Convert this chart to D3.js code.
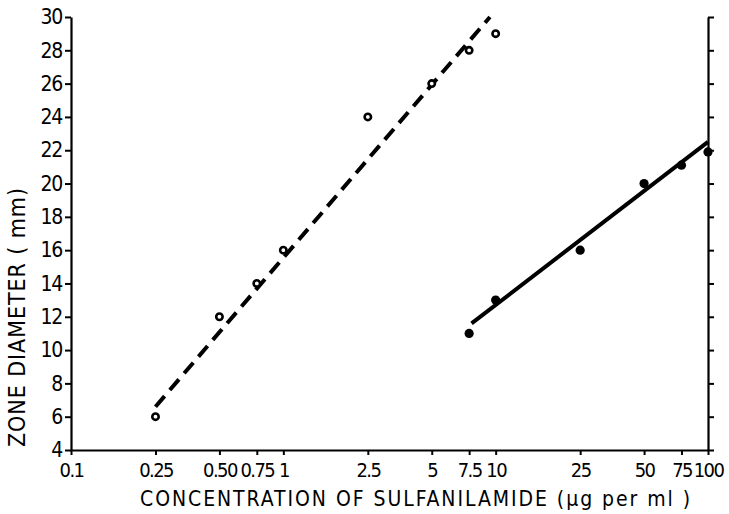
<!DOCTYPE html>
<html>
<head>
<meta charset="utf-8">
<script src="https://cdn.jsdelivr.net/npm/d3@7"></script>
<style>
  body { margin: 0; background: #fff; }
  svg text { font-family: "DejaVu Sans Condensed", "DejaVu Sans", sans-serif; fill: #000; }
</style>
</head>
<body>
<div id="chart"></div>
<script>
// concentration tick labels (ug per ml)
const xTicks = [0.1, 0.25, 0.5, 0.75, 1, 2.5, 5, 7.5, 10, 25, 50, 75, 100]
const xTickLabels = ["0.1", "0.25", "0.50", "0.75", "1", "2.5", "5", "7.5", "10", "25", "50", "75", "100"]
const yTicks = [4, 6, 8, 10, 12, 14, 16, 18, 20, 22, 24, 26, 28, 30]

// open circles + dashed fit
const openConc = [0.25, 0.5, 0.75, 1, 2.5, 5, 7.5, 10]
const openZone = [6, 12, 14, 16, 24, 26, 28, 29]
const dashedFit = [[0.25, 6.6], [9.4, 30]]

// filled circles + solid fit
const filledConc = [7.5, 10, 25, 50, 75, 100]
const filledZone = [11, 13, 16, 20, 21.1, 21.9]
const solidFit = [[7.7, 11.6], [100, 22.5]]

const width = 729
const height = 514
const margin = { top: 17, right: 21, bottom: 64, left: 71 }

const svg = d3.select("#chart")
  .append("svg")
  .attr("width", width)
  .attr("height", height)

const x = d3.scaleLog()
  .domain([0.1, 100])
  .range([margin.left, width - margin.right])

const y = d3.scaleLinear()
  .domain([4, 30])
  .range([height - margin.bottom, margin.top])

// bottom axis
const xAxis = svg.append("g")
  .attr("transform", `translate(0, ${height - margin.bottom})`)
  .call(d3.axisBottom(x)
    .tickValues(xTicks)
    .tickFormat((d, i) => xTickLabels[i])
    .tickSize(5)
    .tickSizeOuter(0)
    .tickPadding(8))
xAxis.select(".domain").attr("stroke-width", 2.2)
xAxis.selectAll(".tick line").attr("stroke-width", 2)
xAxis.selectAll(".tick text")
  .attr("font-size", 20)
  .attr("font-weight", 500)
  .attr("letter-spacing", -1.6)

// left axis
const yAxis = svg.append("g")
  .attr("transform", `translate(${margin.left}, 0)`)
  .call(d3.axisLeft(y)
    .tickValues(yTicks)
    .tickSize(6)
    .tickSizeOuter(0)
    .tickPadding(3))
yAxis.select(".domain").attr("stroke-width", 2.2)
yAxis.selectAll(".tick line").attr("stroke-width", 2)
yAxis.selectAll(".tick text")
  .attr("font-size", 21)
  .attr("letter-spacing", -1.3)

// right axis, ticks only
const yRight = svg.append("g")
  .attr("transform", `translate(${width - margin.right}, 0)`)
  .call(d3.axisRight(y)
    .tickValues(yTicks)
    .tickSize(6)
    .tickSizeOuter(0)
    .tickFormat(""))
yRight.select(".domain").attr("stroke-width", 2.2)
yRight.selectAll(".tick line").attr("stroke-width", 2)

// fit lines
const line = d3.line()
  .x(d => x(d[0]))
  .y(d => y(d[1]))

svg.append("path")
  .datum(dashedFit)
  .attr("d", line)
  .attr("fill", "none")
  .attr("stroke", "#000")
  .attr("stroke-width", 4)
  .attr("stroke-dasharray", "14,8")

svg.append("path")
  .datum(solidFit)
  .attr("d", line)
  .attr("fill", "none")
  .attr("stroke", "#000")
  .attr("stroke-width", 4)

// points
svg.append("g")
  .selectAll("circle")
  .data(openConc)
  .join("circle")
  .attr("cx", d => x(d))
  .attr("cy", (d, i) => y(openZone[i]))
  .attr("r", 3.2)
  .attr("fill", "#fff")
  .attr("stroke", "#000")
  .attr("stroke-width", 2.6)

svg.append("g")
  .selectAll("circle")
  .data(filledConc)
  .join("circle")
  .attr("cx", d => x(d))
  .attr("cy", (d, i) => y(filledZone[i]))
  .attr("r", 4.6)
  .attr("fill", "#000")

// axis titles
svg.append("text")
  .attr("x", 140)
  .attr("y", 506)
  .attr("font-size", 21)
  .attr("textLength", 550)
  .attr("lengthAdjust", "spacing")
  .text("CONCENTRATION OF SULFANILAMIDE  (\u00b5g per ml )")

svg.append("text")
  .attr("transform", "translate(25, 447) rotate(-90)")
  .attr("font-size", 23)
  .attr("textLength", 259)
  .attr("lengthAdjust", "spacing")
  .text("ZONE  DIAMETER  ( mm)")
</script>
</body>
</html>
